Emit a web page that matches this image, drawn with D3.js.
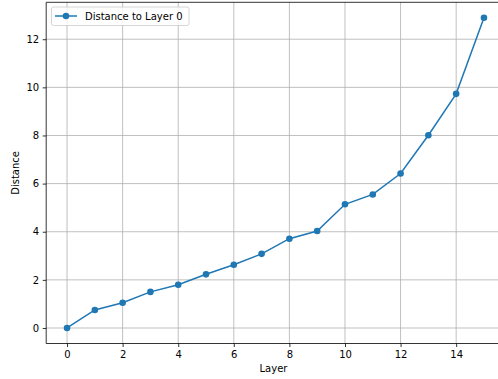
<!DOCTYPE html>
<html><head><meta charset="utf-8">
<script src="https://cdn.jsdelivr.net/npm/d3@7"></script>
<style>body{margin:0;background:#fff}svg{display:block}text{font-family:"DejaVu Sans",sans-serif;fill:#000}</style>
</head><body>
<svg id="c" width="498" height="379"></svg>
<script>
const layers = [0,1,2,3,4,5,6,7,8,9,10,11,12,13,14,15];
const distances = [0,0.75,1.05,1.50,1.80,2.23,2.63,3.08,3.71,4.03,5.14,5.55,6.42,8.01,9.73,12.89];
const xTicks = [0,2,4,6,8,10,12,14];
const yTicks = [0,2,4,6,8,10,12];
const seriesName = "Distance to Layer 0";

const svg = d3.select("#c");
const L = 46.2, R = 504.8, T = 2.3, B = 343.5;
const x = d3.scaleLinear().domain([-0.75, 15.75]).range([L, R]);
const y = d3.scaleLinear().domain([-0.6445, 13.5345]).range([B, T]);
const color = "#1f77b4";

const g = svg.append("g");
// grid
g.selectAll(".gx").data(xTicks).enter().append("line")
  .attr("x1", d=>x(d)).attr("x2", d=>x(d)).attr("y1", T).attr("y2", B)
  .attr("stroke", "#b0b0b0").attr("stroke-width", 0.8);
g.selectAll(".gy").data(yTicks).enter().append("line")
  .attr("y1", d=>y(d)).attr("y2", d=>y(d)).attr("x1", L).attr("x2", R)
  .attr("stroke", "#b0b0b0").attr("stroke-width", 0.8);

// line + markers
g.append("path").datum(layers.map((l,i)=>[l,distances[i]]))
  .attr("d", d3.line().x(d=>x(d[0])).y(d=>y(d[1])))
  .attr("fill","none").attr("stroke",color).attr("stroke-width",1.5);
g.selectAll(".pt").data(layers).enter().append("circle")
  .attr("cx", (d)=>x(d)).attr("cy",(d,i)=>y(distances[i])).attr("r",3.3).attr("fill",color);

// axes
const xa = svg.append("g").attr("transform",`translate(0,${B})`)
  .call(d3.axisBottom(x).tickValues(xTicks).tickSize(3.5).tickPadding(3.5).tickSizeOuter(0));
const ya = svg.append("g").attr("transform",`translate(${L},0)`)
  .call(d3.axisLeft(y).tickValues(yTicks).tickSize(3.5).tickPadding(3.5).tickSizeOuter(0));
[xa,ya].forEach(a=>{
  a.select(".domain").attr("stroke","#000").attr("stroke-width",0.8);
  a.selectAll(".tick line").attr("stroke","#000").attr("stroke-width",0.8);
  a.selectAll(".tick text").attr("font-size",10).attr("font-family","DejaVu Sans").attr("fill","#000");
});
xa.select(".domain").attr("d",`M${L},0H${R}`);
ya.select(".domain").attr("d",`M0,${B}V${T}`);
// top spine
svg.append("line").attr("x1",L).attr("x2",R).attr("y1",T).attr("y2",T).attr("stroke","#000").attr("stroke-width",0.8);

// labels
svg.append("text").attr("x",(L+R)/2 - 2).attr("y",372).attr("text-anchor","middle").attr("font-size",10).text("Layer");
svg.append("text").attr("transform",`translate(19,${(T+B)/2}) rotate(-90)`).attr("text-anchor","middle").attr("font-size",10).text("Distance");

// legend
const lg = svg.append("g");
lg.append("rect").attr("x",51.5).attr("y",7).attr("width",137.5).attr("height",18.5).attr("rx",2)
  .attr("fill","#fff").attr("fill-opacity",0.8).attr("stroke","#cccccc").attr("stroke-width",0.8);
lg.append("line").attr("x1",55).attr("x2",77).attr("y1",16).attr("y2",16).attr("stroke",color).attr("stroke-width",1.5);
lg.append("circle").attr("cx",66).attr("cy",16).attr("r",3.3).attr("fill",color);
lg.append("text").attr("x",85).attr("y",19.5).attr("font-size",10).text(seriesName);
</script>
</body></html>
